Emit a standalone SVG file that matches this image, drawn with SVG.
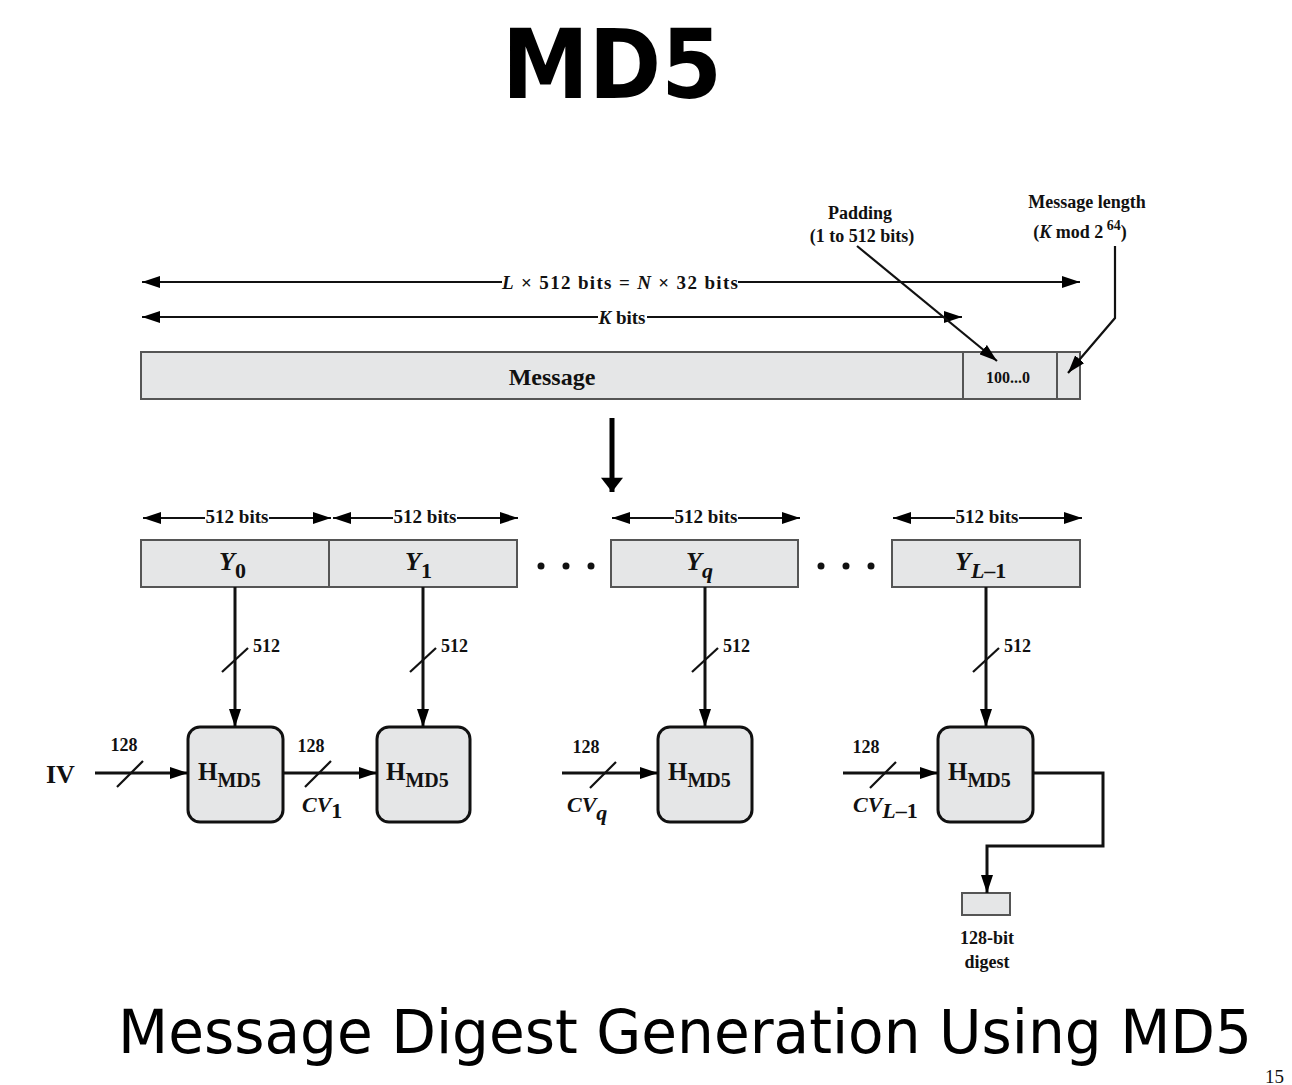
<svg xmlns="http://www.w3.org/2000/svg" width="1292" height="1085" viewBox="0 0 1292 1085">
<defs>
<marker id="ah" viewBox="0 0 18 12" refX="18" refY="6" markerWidth="18" markerHeight="12" markerUnits="userSpaceOnUse" orient="auto-start-reverse">
<path d="M0,0 L18,6 L0,12 z" fill="#000"/>
</marker>
<marker id="ahb" viewBox="0 0 22 34" refX="22" refY="17" markerWidth="34" markerHeight="22" markerUnits="userSpaceOnUse" orient="auto">
<path d="M0,0 L22,17 L0,34 z" fill="#000"/>
</marker>
</defs>
<style>
.t{font-family:"Liberation Serif","Times New Roman",serif;font-weight:bold;fill:#111}
.i{font-style:italic}
.bar{fill:#e5e6e7;stroke:#555;stroke-width:2}
.hb{fill:#e5e6e7;stroke:#111;stroke-width:3}
.ln{stroke:#111;stroke-width:2.2;fill:none}
.lt{stroke:#111;stroke-width:3;fill:none}
.title{font-family:"DejaVu Sans",sans-serif;fill:#000}
</style>
<rect width="1292" height="1085" fill="#fff"/>

<text class="title" x="612" y="98" font-size="96" font-weight="bold" text-anchor="middle" textLength="220" lengthAdjust="spacingAndGlyphs">MD5</text>

<g id="message-bar">
<rect class="bar" x="141" y="352" width="939" height="47"/>
<line x1="963" y1="352" x2="963" y2="399" stroke="#555" stroke-width="2"/>
<line x1="1057" y1="352" x2="1057" y2="399" stroke="#555" stroke-width="2"/>
<text class="t" x="552" y="385" font-size="24" text-anchor="middle">Message</text>
<text class="t" x="1008" y="383" font-size="16" text-anchor="middle">100...0</text>
</g>

<g id="labels-top">
<text class="t" x="860" y="219" font-size="18" text-anchor="middle">Padding</text>
<text class="t" x="862" y="242" font-size="18" text-anchor="middle">(1 to 512 bits)</text>
<text class="t" x="1087" y="208" font-size="18" text-anchor="middle">Message length</text>
<text class="t" x="1080" y="238" font-size="18" text-anchor="middle">(<tspan class="i">K</tspan> mod 2<tspan dy="-8" font-size="14"> 64</tspan><tspan dy="8">)</tspan></text>
<text class="t" x="620" y="289" font-size="19" text-anchor="middle" textLength="236" lengthAdjust="spacing"><tspan class="i">L</tspan> × 512 bits = <tspan class="i">N</tspan> × 32 bits</text>
<text class="t" x="622" y="324" font-size="19" text-anchor="middle"><tspan class="i">K</tspan> bits</text>
</g>

<g id="blocks">
<rect class="bar" x="141" y="540" width="188" height="47"/>
<rect class="bar" x="329" y="540" width="188" height="47"/>
<rect class="bar" x="611" y="540" width="187" height="47"/>
<rect class="bar" x="892" y="540" width="188" height="47"/>
<text class="t i" x="219" y="570" font-size="26">Y<tspan dy="8" font-size="22" font-style="normal">0</tspan></text>
<text class="t i" x="405" y="570" font-size="26">Y<tspan dy="8" font-size="22" font-style="normal">1</tspan></text>
<text class="t i" x="686" y="570" font-size="26">Y<tspan dy="8" font-size="22">q</tspan></text>
<text class="t i" x="955" y="570" font-size="26">Y<tspan dy="8" font-size="22">L</tspan><tspan font-size="22" font-style="normal">–1</tspan></text>
<circle cx="541" cy="566" r="3.5" fill="#111"/><circle cx="566" cy="566" r="3.5" fill="#111"/><circle cx="591" cy="566" r="3.5" fill="#111"/>
<circle cx="821" cy="566" r="3.5" fill="#111"/><circle cx="846" cy="566" r="3.5" fill="#111"/><circle cx="871" cy="566" r="3.5" fill="#111"/>
<text class="t" x="237" y="523" font-size="19" text-anchor="middle">512 bits</text>
<text class="t" x="425" y="523" font-size="19" text-anchor="middle">512 bits</text>
<text class="t" x="706" y="523" font-size="19" text-anchor="middle">512 bits</text>
<text class="t" x="987" y="523" font-size="19" text-anchor="middle">512 bits</text>
</g>

<g id="h-box-1">
<rect class="hb" x="188" y="727" width="95" height="95" rx="12"/>
<text class="t" x="198" y="780" font-size="25">H<tspan dy="7" font-size="20">MD5</tspan></text>
</g>
<g id="h-box-2">
<rect class="hb" x="377" y="727" width="93" height="95" rx="12"/>
<text class="t" x="386" y="780" font-size="25">H<tspan dy="7" font-size="20">MD5</tspan></text>
</g>
<g id="h-box-q">
<rect class="hb" x="658" y="727" width="94" height="95" rx="12"/>
<text class="t" x="668" y="780" font-size="25">H<tspan dy="7" font-size="20">MD5</tspan></text>
</g>
<g id="h-box-L">
<rect class="hb" x="938" y="727" width="95" height="95" rx="12"/>
<text class="t" x="948" y="780" font-size="25">H<tspan dy="7" font-size="20">MD5</tspan></text>
</g>

<g id="digest">
<rect class="bar" x="962" y="893" width="48" height="22"/>
<text class="t" x="987" y="944" font-size="18" text-anchor="middle">128-bit</text>
<text class="t" x="987" y="968" font-size="18" text-anchor="middle">digest</text>
</g>

<g id="connectors">
<line class="ln" x1="142" y1="282" x2="502" y2="282" marker-start="url(#ah)"/>
<line class="ln" x1="738" y1="282" x2="1080" y2="282" marker-end="url(#ah)"/>
<line class="ln" x1="142" y1="317" x2="598" y2="317" marker-start="url(#ah)"/>
<line class="ln" x1="647" y1="317" x2="962" y2="317" marker-end="url(#ah)"/>
<line class="ln" x1="857" y1="246" x2="997" y2="361" marker-end="url(#ah)"/>
<polyline class="ln" points="1115,246 1115,318 1068,373" marker-end="url(#ah)"/>
<line x1="612" y1="418" x2="612" y2="492" stroke="#000" stroke-width="5" marker-end="url(#ahb)"/>
<line class="ln" x1="143" y1="518" x2="205" y2="518" marker-start="url(#ah)"/>
<line class="ln" x1="269" y1="518" x2="331" y2="518" marker-end="url(#ah)"/>
<line class="ln" x1="333" y1="518" x2="393" y2="518" marker-start="url(#ah)"/>
<line class="ln" x1="457" y1="518" x2="518" y2="518" marker-end="url(#ah)"/>
<line class="ln" x1="612" y1="518" x2="674" y2="518" marker-start="url(#ah)"/>
<line class="ln" x1="738" y1="518" x2="800" y2="518" marker-end="url(#ah)"/>
<line class="ln" x1="893" y1="518" x2="955" y2="518" marker-start="url(#ah)"/>
<line class="ln" x1="1019" y1="518" x2="1082" y2="518" marker-end="url(#ah)"/>
<line class="lt" x1="235" y1="587" x2="235" y2="727" marker-end="url(#ah)"/>
<line class="lt" x1="423" y1="587" x2="423" y2="727" marker-end="url(#ah)"/>
<line class="lt" x1="705" y1="587" x2="705" y2="727" marker-end="url(#ah)"/>
<line class="lt" x1="986" y1="587" x2="986" y2="727" marker-end="url(#ah)"/>
<line class="ln" x1="222" y1="672" x2="248" y2="648"/>
<line class="ln" x1="410" y1="672" x2="436" y2="648"/>
<line class="ln" x1="692" y1="672" x2="718" y2="648"/>
<line class="ln" x1="973" y1="672" x2="999" y2="648"/>
<text class="t" x="253" y="652" font-size="18">512</text>
<text class="t" x="441" y="652" font-size="18">512</text>
<text class="t" x="723" y="652" font-size="18">512</text>
<text class="t" x="1004" y="652" font-size="18">512</text>
<text class="t" x="46" y="783" font-size="26">IV</text>
<line class="lt" x1="95" y1="773" x2="188" y2="773" marker-end="url(#ah)"/>
<line class="ln" x1="117" y1="787" x2="143" y2="761"/>
<text class="t" x="124" y="751" font-size="18" text-anchor="middle">128</text>
<line class="lt" x1="283" y1="773" x2="377" y2="773" marker-end="url(#ah)"/>
<line class="ln" x1="305" y1="787" x2="331" y2="761"/>
<text class="t" x="311" y="752" font-size="18" text-anchor="middle">128</text>
<text class="t i" x="302" y="812" font-size="22">CV<tspan dy="6" font-style="normal">1</tspan></text>
<line class="lt" x1="562" y1="773" x2="658" y2="773" marker-end="url(#ah)"/>
<line class="ln" x1="590" y1="788" x2="616" y2="762"/>
<text class="t" x="586" y="753" font-size="18" text-anchor="middle">128</text>
<text class="t i" x="567" y="812" font-size="22">CV<tspan dy="8">q</tspan></text>
<line class="lt" x1="843" y1="773" x2="938" y2="773" marker-end="url(#ah)"/>
<line class="ln" x1="870" y1="788" x2="896" y2="762"/>
<text class="t" x="866" y="753" font-size="18" text-anchor="middle">128</text>
<text class="t i" x="853" y="812" font-size="22">CV<tspan dy="6">L</tspan><tspan font-style="normal">–1</tspan></text>
<polyline class="lt" points="1033,773 1103,773 1103,846 987,846 987,893" marker-end="url(#ah)"/>
</g>

<text class="title" x="118" y="1053" font-size="60" textLength="1134" lengthAdjust="spacingAndGlyphs">Message Digest Generation Using MD5</text>
<text x="1265" y="1083" font-family="Liberation Serif,serif" font-size="19" fill="#111">15</text>
</svg>
